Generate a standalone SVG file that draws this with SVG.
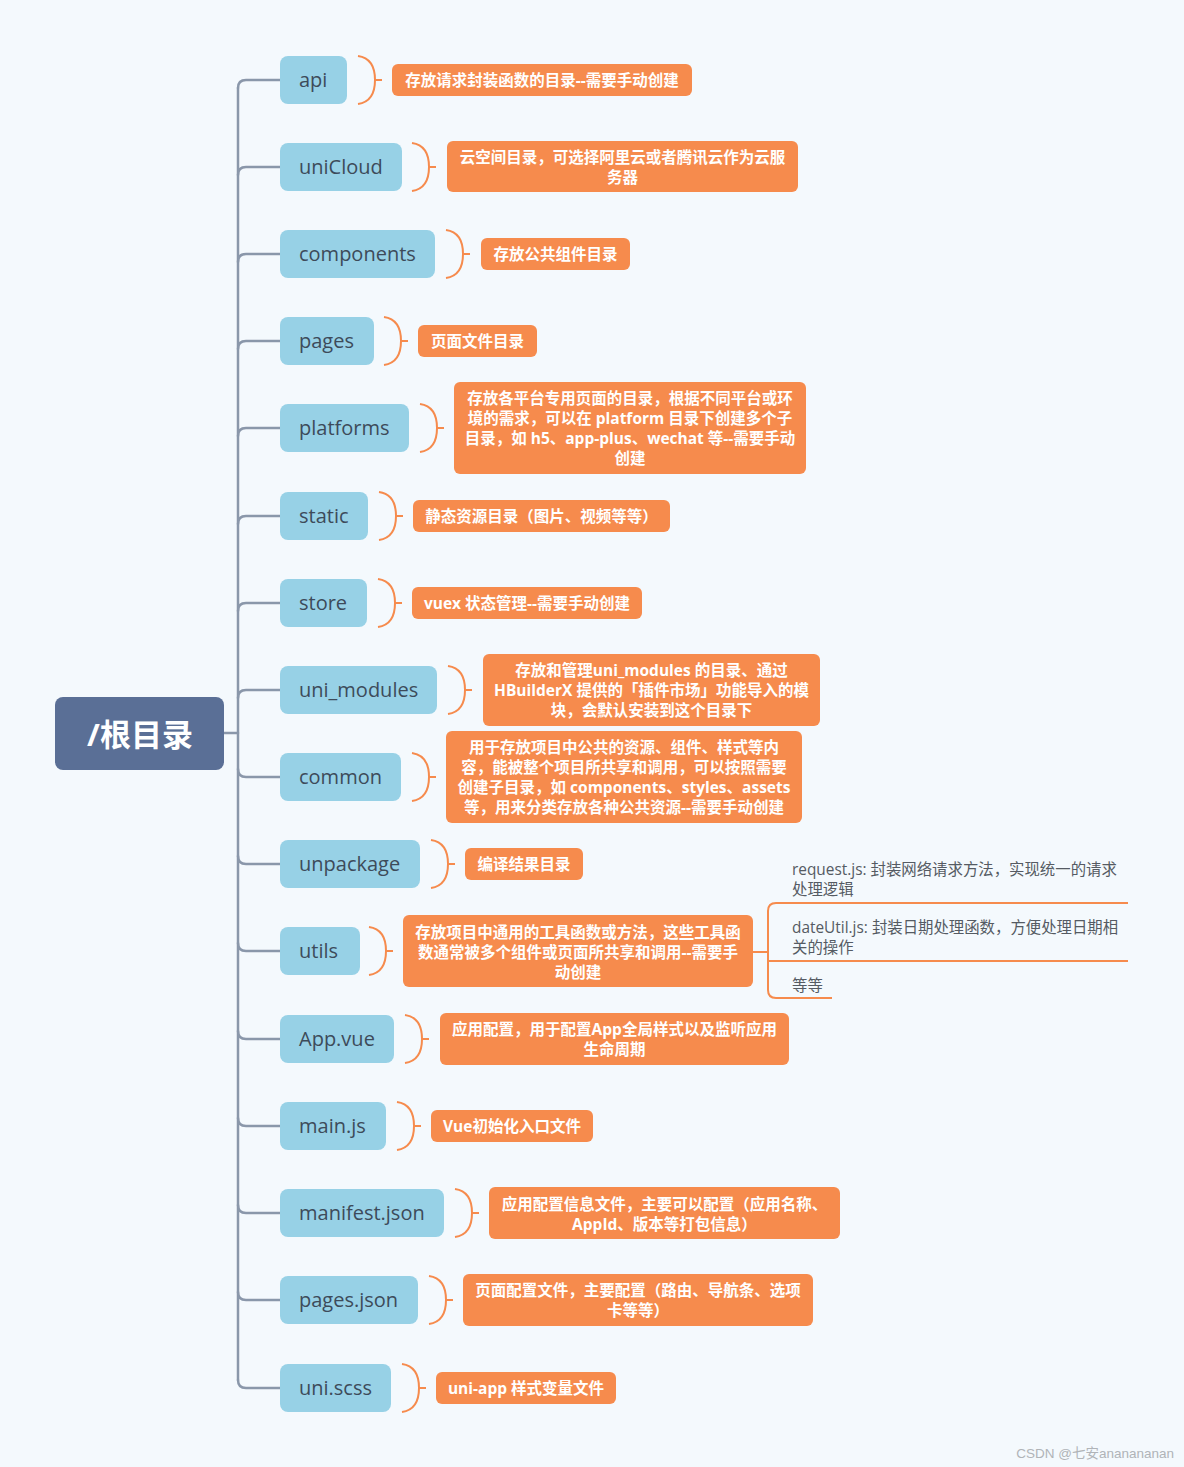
<svg xmlns="http://www.w3.org/2000/svg" xmlns:xlink="http://www.w3.org/1999/xlink" width="1184" height="1467" viewBox="0 0 1184 1467">
<style>
.bg{fill:#f4f9fd}
.conn{fill:none;stroke:#8a97aa;stroke-width:2.5;stroke-linecap:round}
.child rect{fill:#97d1e6}
.child text{font-family:"Open Sans","Noto Sans CJK SC",sans-serif;font-size:20px;fill:#3d4b5a;dominant-baseline:central}
.br{fill:none;stroke:#f68b4d;stroke-width:2}
.desc rect{fill:#f68b4d}
.desc text{font-family:"Open Sans","Noto Sans CJK SC",sans-serif;font-size:15.5px;font-weight:bold;fill:#ffffff;text-anchor:middle;dominant-baseline:central}
.sub{font-family:"Open Sans","Noto Sans CJK SC",sans-serif;font-size:15.4px;fill:#555b63;dominant-baseline:central}
.ol{fill:none;stroke:#f68b4d;stroke-width:2}
</style>
<defs>
<path id="brk" class="br" d="M0,-24 C14,-22 17,-10 17,0 C17,10 14,22 0,24 M17,0 H24"/>
</defs>
<rect class="bg" x="0" y="0" width="1184" height="1467"/>

<g id="connectors">
<path class="conn" d="M224,733 H238"/>
<path class="conn" d="M238,88 V1380"/>
<path class="conn" d="M238,88 Q238,80 246,80 H280"/>
<path class="conn" d="M238,175 Q238,167 246,167 H280"/>
<path class="conn" d="M238,262 Q238,254 246,254 H280"/>
<path class="conn" d="M238,349 Q238,341 246,341 H280"/>
<path class="conn" d="M238,436 Q238,428 246,428 H280"/>
<path class="conn" d="M238,524 Q238,516 246,516 H280"/>
<path class="conn" d="M238,611 Q238,603 246,603 H280"/>
<path class="conn" d="M238,698 Q238,690 246,690 H280"/>
<path class="conn" d="M238,769 Q238,777 246,777 H280"/>
<path class="conn" d="M238,856 Q238,864 246,864 H280"/>
<path class="conn" d="M238,943 Q238,951 246,951 H280"/>
<path class="conn" d="M238,1031 Q238,1039 246,1039 H280"/>
<path class="conn" d="M238,1118 Q238,1126 246,1126 H280"/>
<path class="conn" d="M238,1205 Q238,1213 246,1213 H280"/>
<path class="conn" d="M238,1292 Q238,1300 246,1300 H280"/>
<path class="conn" d="M238,1380 Q238,1388 246,1388 H280"/>
<!-- utils sub-topics -->
<path class="ol" d="M753,952 H768"/>
<path class="ol" d="M768,990 V911 Q768,903 776,903 H1128"/>
<path class="ol" d="M768,961 H1128"/>
<path class="ol" d="M768,988 V990 Q768,998 776,998 H832"/>
</g>

<g id="root">
<rect x="55" y="697" width="169" height="73" rx="8" fill="#5a6f96"/>
<text x="140" y="734" font-family="'Open Sans','Noto Sans CJK SC',sans-serif" font-size="31" font-weight="bold" fill="#ffffff" text-anchor="middle" dominant-baseline="central">/根目录</text>
</g>

<g id="n-api" class="child"><rect x="280" y="56" width="67" height="48" rx="8"/><text x="299" y="79.5">api</text></g>
<g id="n-uniCloud" class="child"><rect x="280" y="143" width="122" height="48" rx="8"/><text x="299" y="166.5">uniCloud</text></g>
<g id="n-components" class="child"><rect x="280" y="230" width="155" height="48" rx="8"/><text x="299" y="253.5">components</text></g>
<g id="n-pages" class="child"><rect x="280" y="317" width="94" height="48" rx="8"/><text x="299" y="340.5">pages</text></g>
<g id="n-platforms" class="child"><rect x="280" y="404" width="129" height="48" rx="8"/><text x="299" y="427.5">platforms</text></g>
<g id="n-static" class="child"><rect x="280" y="492" width="88" height="48" rx="8"/><text x="299" y="515.5">static</text></g>
<g id="n-store" class="child"><rect x="280" y="579" width="87" height="48" rx="8"/><text x="299" y="602.5">store</text></g>
<g id="n-uni_modules" class="child"><rect x="280" y="666" width="157" height="48" rx="8"/><text x="299" y="689.5">uni_modules</text></g>
<g id="n-common" class="child"><rect x="280" y="753" width="121" height="48" rx="8"/><text x="299" y="776.5">common</text></g>
<g id="n-unpackage" class="child"><rect x="280" y="840" width="140" height="48" rx="8"/><text x="299" y="863.5">unpackage</text></g>
<g id="n-utils" class="child"><rect x="280" y="927" width="80" height="48" rx="8"/><text x="299" y="950.5">utils</text></g>
<g id="n-App.vue" class="child"><rect x="280" y="1015" width="114" height="48" rx="8"/><text x="299" y="1038.5">App.vue</text></g>
<g id="n-main.js" class="child"><rect x="280" y="1102" width="106" height="48" rx="8"/><text x="299" y="1125.5">main.js</text></g>
<g id="n-manifest.json" class="child"><rect x="280" y="1189" width="164" height="48" rx="8"/><text x="299" y="1212.5">manifest.json</text></g>
<g id="n-pages.json" class="child"><rect x="280" y="1276" width="138" height="48" rx="8"/><text x="299" y="1299.5">pages.json</text></g>
<g id="n-uni.scss" class="child"><rect x="280" y="1364" width="111" height="48" rx="8"/><text x="299" y="1387.5">uni.scss</text></g>

<g id="brackets">
<use href="#brk" x="358" y="80"/>
<use href="#brk" x="412" y="167"/>
<use href="#brk" x="446" y="254"/>
<use href="#brk" x="384" y="341"/>
<use href="#brk" x="420" y="428"/>
<use href="#brk" x="379" y="516"/>
<use href="#brk" x="378" y="603"/>
<use href="#brk" x="448" y="690"/>
<use href="#brk" x="412" y="777"/>
<use href="#brk" x="431" y="864"/>
<use href="#brk" x="369" y="951"/>
<use href="#brk" x="405" y="1039"/>
<use href="#brk" x="397" y="1126"/>
<use href="#brk" x="455" y="1213"/>
<use href="#brk" x="429" y="1300"/>
<use href="#brk" x="402" y="1388"/>
</g>

<g id="d-api" class="desc"><rect x="392" y="64" width="300" height="32" rx="6"/><text x="542" y="80">存放请求封装函数的目录--需要手动创建</text></g>
<g id="d-uniCloud" class="desc"><rect x="447" y="141" width="351" height="51" rx="6"/><text x="622.5" y="157">云空间目录，可选择阿里云或者腾讯云作为云服</text><text x="622.5" y="177">务器</text></g>
<g id="d-components" class="desc"><rect x="481" y="238" width="149" height="32" rx="6"/><text x="555.5" y="254">存放公共组件目录</text></g>
<g id="d-pages" class="desc"><rect x="418" y="325" width="119" height="32" rx="6"/><text x="477.5" y="341">页面文件目录</text></g>
<g id="d-platforms" class="desc"><rect x="454" y="382" width="352" height="92" rx="6"/><text x="630" y="398">存放各平台专用页面的目录，根据不同平台或环</text><text x="630" y="418">境的需求，可以在 platform 目录下创建多个子</text><text x="630" y="438">目录，如 h5、app-plus、wechat 等--需要手动</text><text x="630" y="458">创建</text></g>
<g id="d-static" class="desc"><rect x="413" y="500" width="257" height="32" rx="6"/><text x="541.5" y="516">静态资源目录（图片、视频等等）</text></g>
<g id="d-store" class="desc"><rect x="412" y="587" width="230" height="32" rx="6"/><text x="527" y="603">vuex 状态管理--需要手动创建</text></g>
<g id="d-uni_modules" class="desc"><rect x="483" y="654" width="337" height="72" rx="6"/><text x="651.5" y="670">存放和管理uni_modules 的目录、通过</text><text x="651.5" y="690">HBuilderX 提供的「插件市场」功能导入的模</text><text x="651.5" y="710">块，会默认安装到这个目录下</text></g>
<g id="d-common" class="desc"><rect x="446" y="731" width="356" height="92" rx="6"/><text x="624" y="747">用于存放项目中公共的资源、组件、样式等内</text><text x="624" y="767">容，能被整个项目所共享和调用，可以按照需要</text><text x="624" y="787">创建子目录，如 components、styles、assets</text><text x="624" y="807">等，用来分类存放各种公共资源--需要手动创建</text></g>
<g id="d-unpackage" class="desc"><rect x="465" y="848" width="118" height="32" rx="6"/><text x="524" y="864">编译结果目录</text></g>
<g id="d-utils" class="desc"><rect x="403" y="915" width="350" height="72" rx="6"/><text x="578" y="932">存放项目中通用的工具函数或方法，这些工具函</text><text x="578" y="952">数通常被多个组件或页面所共享和调用--需要手</text><text x="578" y="972">动创建</text></g>
<g id="d-App.vue" class="desc"><rect x="440" y="1013" width="349" height="52" rx="6"/><text x="614.5" y="1029">应用配置，用于配置App全局样式以及监听应用</text><text x="614.5" y="1049">生命周期</text></g>
<g id="d-main.js" class="desc"><rect x="431" y="1110" width="162" height="32" rx="6"/><text x="512" y="1126">Vue初始化入口文件</text></g>
<g id="d-manifest.json" class="desc"><rect x="489" y="1187" width="351" height="52" rx="6"/><text x="664.5" y="1204">应用配置信息文件，主要可以配置（应用名称、</text><text x="664.5" y="1224">AppId、版本等打包信息）</text></g>
<g id="d-pages.json" class="desc"><rect x="463" y="1274" width="350" height="52" rx="6"/><text x="638" y="1290">页面配置文件，主要配置（路由、导航条、选项</text><text x="638" y="1310">卡等等）</text></g>
<g id="d-uni.scss" class="desc"><rect x="436" y="1372" width="180" height="32" rx="6"/><text x="526" y="1388">uni-app 样式变量文件</text></g>

<g id="s-request"><text class="sub" x="792" y="869">request.js: 封装网络请求方法，实现统一的请求</text><text class="sub" x="792" y="889">处理逻辑</text></g>
<g id="s-dateUtil"><text class="sub" x="792" y="927">dateUtil.js: 封装日期处理函数，方便处理日期相</text><text class="sub" x="792" y="947">关的操作</text></g>
<g id="s-etc"><text class="sub" x="792" y="985">等等</text></g>

<text x="1174" y="1453" font-family="'Liberation Sans','Noto Sans CJK SC',sans-serif" font-size="13.5" fill="#b0b4b8" text-anchor="end" dominant-baseline="central">CSDN @七安ananananan</text>
</svg>
